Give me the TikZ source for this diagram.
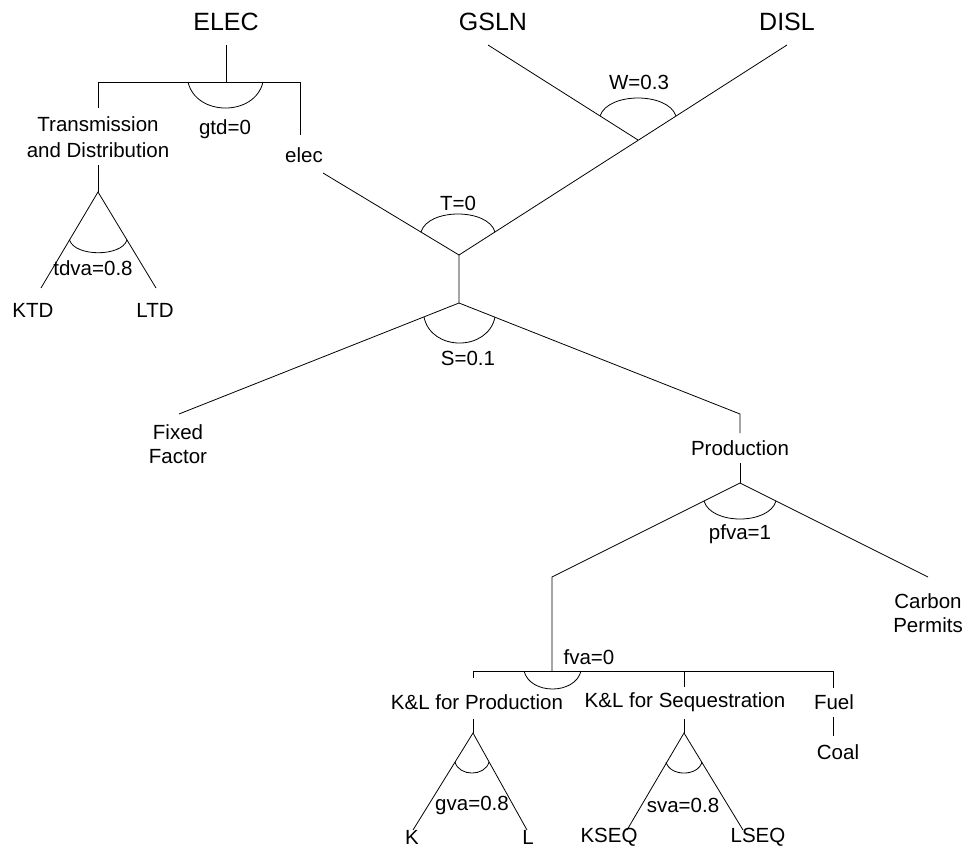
\documentclass[tikz,border=0pt]{standalone}
\usepackage{fontspec}
\setmainfont{Liberation Sans}
\begin{document}
\begin{tikzpicture}[x=1pt,y=-1pt,
  lbl/.style={inner sep=0pt,font=\fontsize{20.5}{24}\selectfont},
  big/.style={inner sep=0pt,font=\fontsize{25}{29}\selectfont},
  ln/.style={line width=0.8pt,black},
  nestarc/.style={line width=0.8pt,black}]
\useasboundingbox (0,0) rectangle (968,848);
% ---------- coordinates (junctions and line ends)
\coordinate (eTop) at (226,45);
\coordinate (eJ) at (226,82);
\coordinate (eL) at (98,82);
\coordinate (eLb) at (98,108);
\coordinate (eR) at (300,82);
\coordinate (eRb) at (300,135);
\coordinate (tdTop) at (98,165);
\coordinate (tdJ) at (98,192);
\coordinate (ktdE) at (41,288);
\coordinate (ltdE) at (156,288);
\coordinate (gslnE) at (488,45);
\coordinate (dislE) at (787,45);
\coordinate (wJ) at (638,140);
\coordinate (elecE) at (323,173);
\coordinate (tJ) at (459,255);
\coordinate (sJ) at (459,303);
\coordinate (ffE) at (179,414);
\coordinate (prE) at (740,414);
\coordinate (prEb) at (740,433);
\coordinate (prTop) at (740,463);
\coordinate (pJ) at (740,483);
\coordinate (kEd) at (552,577);
\coordinate (cpE) at (928,577);
\coordinate (fJ) at (552,671);
\coordinate (hL) at (473,671);
\coordinate (hM) at (684,671);
\coordinate (hR) at (833,671);
\coordinate (klpB) at (473,678);
\coordinate (klsB) at (684,687);
\coordinate (fuelB) at (833,688);
\coordinate (klpT) at (473,719);
\coordinate (gJ) at (473,733);
\coordinate (kE) at (413,830);
\coordinate (lE) at (527,830);
\coordinate (klsT) at (684,719);
\coordinate (sqJ) at (684,733);
\coordinate (kseqE) at (627,830);
\coordinate (lseqE) at (743,830);
\coordinate (coalT) at (833,717);
\coordinate (coalB) at (833,736);
% ---------- text
\node[big] (elec0) at (226,22) {ELEC};
\node[big] (gsln) at (493,22) {GSLN};
\node[big] (disl) at (787,22) {DISL};
\node[lbl] (trans) at (98,124) {Transmission};
\node[lbl] (anddist) at (98,150) {and Distribution};
\node[lbl] (gtd) at (225,129) {gtd=0};
\node[lbl] (elec) at (304,155) {elec};
\node[lbl] (tdva) at (93,268) {tdva=0.8};
\node[lbl] (ktd) at (33,310) {KTD};
\node[lbl] (ltd) at (155,310) {LTD};
\node[lbl] (wlab) at (639,82) {W=0.3};
\node[lbl] (tlab) at (458,203) {T=0};
\node[lbl] (slab) at (468,358) {S=0.1};
\node[lbl] (fixed) at (178,432) {Fixed};
\node[lbl] (factor) at (178,457) {Factor};
\node[lbl] (prod) at (740,448) {Production};
\node[lbl] (pfva) at (740,534) {pfva=1};
\node[lbl] (carbon) at (928,601) {Carbon};
\node[lbl] (permits) at (928,625) {Permits};
\node[lbl] (fva) at (589,657) {fva=0};
\node[lbl] (klp) at (477,702) {K\&L for Production};
\node[lbl] (kls) at (685,702) {K\&L for Sequestration};
\node[lbl] (fuel) at (834,702) {Fuel};
\node[lbl] (coal) at (838,752) {Coal};
\node[lbl] (gva) at (472,805) {gva=0.8};
\node[lbl] (sva) at (683,805) {sva=0.8};
\node[lbl] (k) at (412,837) {K};
\node[lbl] (l) at (528,837) {L};
\node[lbl] (kseq) at (609,837) {KSEQ};
\node[lbl] (lseq) at (758,837) {LSEQ};
% ---------- connectors
\draw[ln] (eTop) -- (eJ);
\draw[ln] (eLb) -- (eL) -- (eR) -- (eRb);
\draw[ln] (tdTop) -- (tdJ);
\draw[ln] (ktdE) -- (tdJ) -- (ltdE);
\draw[ln] (gslnE) -- (wJ);
\draw[ln] (dislE) -- (tJ);
\draw[ln] (elecE) -- (tJ) -- (sJ);
\draw[ln] (ffE) -- (sJ) -- (prE) -- (prEb);
\draw[ln] (prTop) -- (pJ);
\draw[ln] (fJ) -- (kEd) -- (pJ) -- (cpE);
\draw[ln] (klpB) -- (hL) -- (hR) -- (fuelB);
\draw[ln] (hM) -- (klsB);
\draw[ln] (klpT) -- (gJ);
\draw[ln] (kE) -- (gJ) -- (lE);
\draw[ln] (klsT) -- (sqJ);
\draw[ln] (kseqE) -- (sqJ) -- (lseqE);
\draw[ln] (coalT) -- (coalB);
% ---------- elasticity arcs
\draw[nestarc] (188,82) .. controls (196,116.7) and (255,116.7) .. (263,82);
\draw[nestarc] (69.5,240) .. controls (75,257) and (121.5,257) .. (127,240);
\draw[nestarc] (600,116) .. controls (608,92) and (668,92) .. (676,116);
\draw[nestarc] (421,232) .. controls (428,208) and (488,208) .. (495,232);
\draw[nestarc] (424,317) .. controls (431,351.7) and (488,351.7) .. (495,317);
\draw[nestarc] (704,501) .. controls (711,525) and (769,525) .. (776,501);
\draw[nestarc] (524,671) .. controls (530,695) and (575,695) .. (581,671);
\draw[nestarc] (455,762) .. controls (459,776.7) and (485,776.7) .. (489,762);
\draw[nestarc] (666,762) .. controls (670,776.7) and (698,776.7) .. (702,762);
\end{tikzpicture}
\end{document}
